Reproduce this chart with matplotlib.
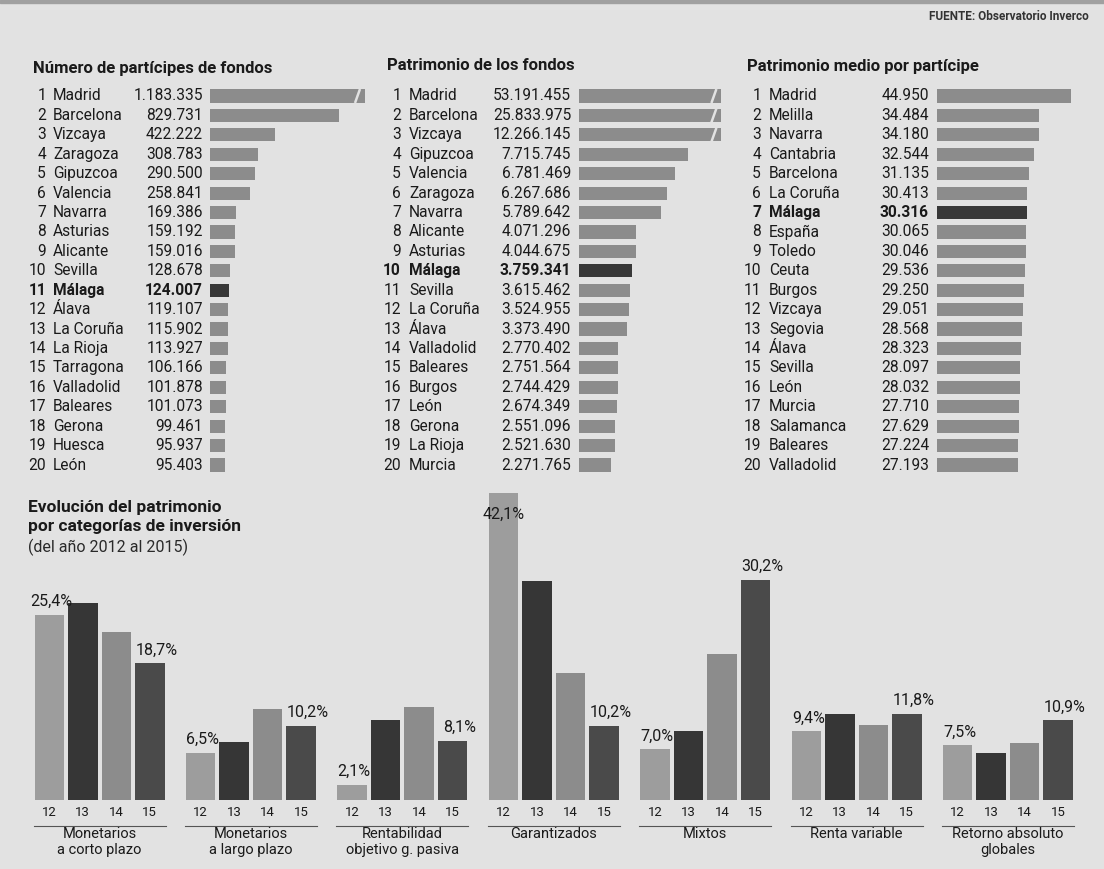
import matplotlib
matplotlib.use("Agg")
import matplotlib.pyplot as plt
from matplotlib import transforms as mtrans

# ---------------- data ----------------
p1_title = "Número de partícipes de fondos"
p1_names = ["Madrid", "Barcelona", "Vizcaya", "Zaragoza", "Gipuzcoa", "Valencia",
            "Navarra", "Asturias", "Alicante", "Sevilla", "Málaga", "Álava",
            "La Coruña", "La Rioja", "Tarragona", "Valladolid", "Baleares",
            "Gerona", "Huesca", "León"]
p1_values = [1183335, 829731, 422222, 308783, 290500, 258841, 169386, 159192,
             159016, 128678, 124007, 119107, 115902, 113927, 106166, 101878,
             101073, 99461, 95937, 95403]

p2_title = "Patrimonio de los fondos"
p2_names = ["Madrid", "Barcelona", "Vizcaya", "Gipuzcoa", "Valencia", "Zaragoza",
            "Navarra", "Alicante", "Asturias", "Málaga", "Sevilla", "La Coruña",
            "Álava", "Valladolid", "Baleares", "Burgos", "León", "Gerona",
            "La Rioja", "Murcia"]
p2_values = [53191455, 25833975, 12266145, 7715745, 6781469, 6267686, 5789642,
             4071296, 4044675, 3759341, 3615462, 3524955, 3373490, 2770402,
             2751564, 2744429, 2674349, 2551096, 2521630, 2271765]

p3_title = "Patrimonio medio por partícipe"
p3_names = ["Madrid", "Melilla", "Navarra", "Cantabria", "Barcelona", "La Coruña",
            "Málaga", "España", "Toledo", "Ceuta", "Burgos", "Vizcaya", "Segovia",
            "Álava", "Sevilla", "León", "Murcia", "Salamanca", "Baleares",
            "Valladolid"]
p3_values = [44950, 34484, 34180, 32544, 31135, 30413, 30316, 30065, 30046,
             29536, 29250, 29051, 28568, 28323, 28097, 28032, 27710, 27629,
             27224, 27193]

highlight = "Málaga"

bottom_title = "Evolución del patrimonio\npor categorías de inversión"
bottom_subtitle = "(del año 2012 al 2015)"
categories = ["Monetarios\na corto plazo", "Monetarios\na largo plazo",
              "Rentabilidad\nobjetivo g. pasiva", "Garantizados", "Mixtos",
              "Renta variable", "Retorno absoluto\nglobales"]
years = ["12", "13", "14", "15"]
v12 = [25.4, 6.5, 2.1, 42.1, 7.0, 9.4, 7.5]
v13 = [27.0, 7.9, 11.0, 30.0, 9.5, 11.8, 6.4]
v14 = [23.0, 12.5, 12.7, 17.4, 20.0, 10.3, 7.8]
v15 = [18.7, 10.2, 8.1, 10.2, 30.2, 11.8, 10.9]
source = "FUENTE: Observatorio Inverco"

# ---------------- style ----------------
W, H = 1104, 869
BG = "#e2e2e2"
TXT = "#1a1a1a"
BAR = "#8c8c8c"
BAR_HI = "#383838"
YEAR_COLORS = ["#9d9d9d", "#363636", "#8c8c8c", "#4a4a4a"]
FONT = ["Roboto", "DejaVu Sans"]
plt.rcParams["font.family"] = FONT

fig = plt.figure(figsize=(W / 100, H / 100), dpi=100, facecolor=BG)


def fx(x):
    return x / W


def fy(y):
    return 1 - y / H


def add_axes_px(x0, y0, x1, y1):
    ax = fig.add_axes([fx(x0), fy(y1), (x1 - x0) / W, (y1 - y0) / H])
    ax.set_facecolor("none")
    ax.axis("off")
    return ax


def fmt_int(v):
    return f"{v:,}".replace(",", ".")


# thin dark strip on top edge
fig.patches.append(plt.Rectangle((0, fy(2.5)), 1, 2.5 / H, transform=fig.transFigure,
                                 color="#a0a0a0", zorder=0))

fig.text(fx(1089), fy(16), source, ha="right", va="center", fontsize=8.5,
         color="#333333", fontweight="bold")


def top_panel(title, title_x, title_y, names, values, rank_x, name_x, value_x,
              bar_x0, bar_x1, px_per_unit, cap):
    y_first, y_last = 96, 465
    n = len(names)
    dy = (y_last - y_first) / (n - 1)
    ax = add_axes_px(bar_x0, y_first - dy / 2, bar_x1, y_last + dy / 2)
    ax.set_xlim(0, (bar_x1 - bar_x0) / px_per_unit)
    ax.set_ylim(n - 0.5, -0.5)
    shown = [min(v, cap) for v in values]
    colors = [BAR_HI if nm == highlight else BAR for nm in names]
    ax.barh(range(n), shown, height=0.68, color=colors, linewidth=0)
    u = 1 / px_per_unit  # one pixel in data units
    for i, v in enumerate(values):
        if v > cap:
            ax.plot([cap - 10 * u, cap - 5 * u], [i + 0.36, i - 0.36],
                    color=BG, lw=1.8, solid_capstyle="butt")
    tr = mtrans.blended_transform_factory(fig.transFigure, ax.transData)
    for i, (nm, v) in enumerate(zip(names, values)):
        w = "bold" if nm == highlight else "normal"
        kw = dict(transform=tr, va="center", fontsize=11.2, color=TXT,
                  fontweight=w)
        ax.text(fx(rank_x), i, str(i + 1), ha="right", **kw)
        ax.text(fx(name_x), i, nm, ha="left", **kw)
        ax.text(fx(value_x), i, fmt_int(v), ha="right", **kw)
    fig.text(fx(title_x), fy(title_y), title, ha="left", va="center", fontsize=12,
             fontweight="bold", color=TXT)


top_panel(p1_title, 33, 68, p1_names, p1_values, 46, 53, 203, 210, 372, 0.155e-3, 1.0e6)
top_panel(p2_title, 387, 66, p2_names, p2_values, 401, 409, 571, 579, 728, 14.1e-6, 10.1e6)
top_panel(p3_title, 747, 66, p3_names, p3_values, 761, 769, 929, 937, 1080, 2.97e-3, 1e9)

# ---------------- bottom grouped bars ----------------
fig.text(fx(28), fy(500), bottom_title, ha="left", va="top", fontsize=12.5,
         fontweight="bold", color=TXT, linespacing=1.35)
fig.text(fx(28), fy(547), bottom_subtitle, ha="left", va="center", fontsize=11.5,
         fontweight="normal", color="#2a2a2a")

PX_PER_PCT = 7.3
base_y, top_y = 800, 480
axb = add_axes_px(0, top_y, W, base_y)
axb.set_xlim(0, W)
axb.set_ylim(0, (base_y - top_y) / PX_PER_PCT)

g0, gstep, bstep, bw = 99.5, 151.4, 33.5, 29.5
series = [v12, v13, v14, v15]
for g, cat in enumerate(categories):
    gc = g0 + g * gstep
    for j, vals in enumerate(series):
        x = gc + (j - 1.5) * bstep
        axb.bar(x, vals[g], width=bw, color=YEAR_COLORS[j], linewidth=0)
        axb.annotate(years[j], (x, 0), xytext=(0, -4.5), textcoords="offset points",
                     ha="center", va="top", fontsize=9.5, color=TXT,
                     annotation_clip=False)
    # labels for first and last year
    for j, dx in ((0, 1.5), (3, 5)):
        x = gc + (j - 1.5) * bstep
        v = series[j][g]
        lab = f"{v:.1f}%".replace(".", ",")
        if v > 38:
            axb.annotate(lab, (x, v), xytext=(0, -10), textcoords="offset points",
                         ha="center", va="top", fontsize=11.5, color=TXT)
        else:
            axb.annotate(lab, (x, v), xytext=(dx, 4), textcoords="offset points",
                         ha="center", va="bottom", fontsize=11.5, color=TXT)
    ul = -26 / PX_PER_PCT
    axb.plot([gc - 2 * bstep + 1, gc + 2 * bstep - 1], [ul, ul], color="#555555",
             lw=0.8, clip_on=False)
    axb.annotate(cat, (gc, 0), xytext=(0, -19.5), textcoords="offset points",
                 ha="center", va="top", fontsize=10.5, color=TXT, linespacing=1.2,
                 annotation_clip=False)

fig.savefig("out.png", dpi=100, facecolor=BG)
